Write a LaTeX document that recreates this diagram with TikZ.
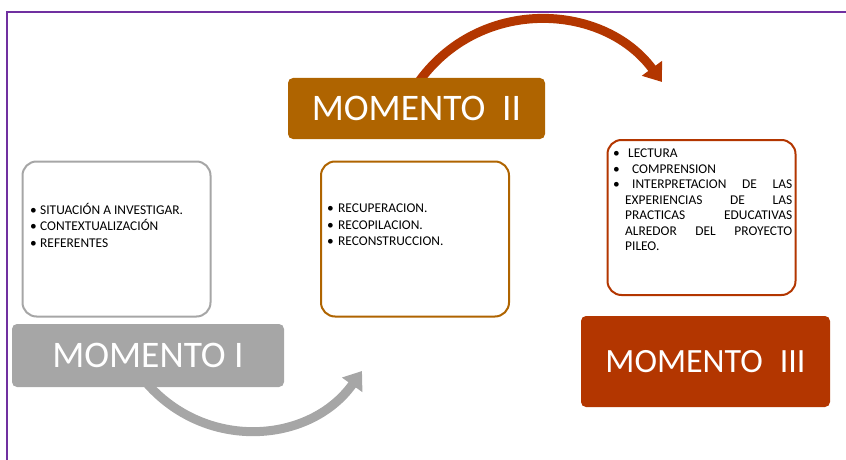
\documentclass[tikz,border=0pt]{standalone}
\usepackage{fontspec}
\setmainfont{Carlito}
\usetikzlibrary{arrows.meta,backgrounds}
\definecolor{marcovioleta}{HTML}{7030A0}
\definecolor{grisuno}{HTML}{A6A6A6}
\definecolor{ocredos}{HTML}{AF6400}
\definecolor{rojotres}{HTML}{B33600}
\newcommand{\vineta}[1][10pt]{\makebox[#1][l]{\textbullet}}
\tikzset{
  caja/.style={draw, line width=2pt, rounded corners=14pt, minimum width=188pt, minimum height=155pt, inner sep=0pt},
  momento/.style={rounded corners=5pt, text=white, inner sep=0pt, font=\fontsize{37.5}{40}\selectfont},
  lista/.style={anchor=north west, inner sep=0pt, font=\fontsize{13.4}{16.5}\selectfont},
  flecha/.style={line width=9pt, -{Triangle[width=24pt,length=17pt]}},
}
\begin{document}
\begin{tikzpicture}[x=1pt,y=-1pt]
  \useasboundingbox (0,0) rectangle (846,460);
  \draw[marcovioleta, line width=1.5pt] (7,460) -- (7,12) -- (846,12);
  % cajas de contenido
  \node[caja, draw=grisuno] (b1) at (116.5,239) {};
  \node[caja, draw=ocredos] (b2) at (415,239) {};
  \node[caja, draw=rojotres] (b3) at (701.5,217.5) {};
  \node[lista, align=left] (t1) at (30,203) {\vineta SITUACIÓN A INVESTIGAR.\\ \vineta CONTEXTUALIZACIÓN\\ \vineta REFERENTES};
  \node[lista, align=left] (t2) at (327,204) {\vineta[11pt]RECUPERACION.\\ \vineta[11pt]RECOPILACION.\\ \vineta[11pt]RECONSTRUCCION.};
  \node[lista, text width=179pt, align=justify, font=\fontsize{13.4}{15.5}\selectfont] (t3) at (613,149) {\parindent=0pt
    \vineta[12pt]\hspace*{3pt}LECTURA\par
    \vineta[12pt]\hspace*{7pt}COMPRENSION\par
    \hangindent=12pt\hangafter=1 \vineta[12pt]\hspace*{7pt}INTERPRETACION DE LAS\linebreak
    EXPERIENCIAS DE LAS\linebreak PRACTICAS EDUCATIVAS\linebreak ALREDOR DEL PROYECTO\linebreak PILEO.\par};
  % momentos
  \node[momento, fill=grisuno, minimum width=272pt, minimum height=63pt] (m1) at (148,355.5) {MOMENTO I};
  \node[momento, fill=ocredos, minimum width=257pt, minimum height=61pt] (m2) at (416.5,108.5) {MOMENTO\ \ II};
  \node[momento, fill=rojotres, minimum width=249pt, minimum height=91pt, font=\fontsize{34}{37}\selectfont] (m3) at (705.5,361.5) {MOMENTO\hspace{17pt}III};
  \coordinate (g-fin) at (362,371);
  \coordinate (r-fin) at (662,82);
  \begin{scope}[on background layer]
    \draw[flecha, grisuno] ([shift={(-3,-6)}]m1.south) .. controls (205,452) and (310,444) .. (g-fin);
    \draw[flecha, rojotres] ([shift={(0.5,6.5)}]m2.north) .. controls (478,-4) and (603,2) .. (r-fin);
  \end{scope}
\end{tikzpicture}
\end{document}
